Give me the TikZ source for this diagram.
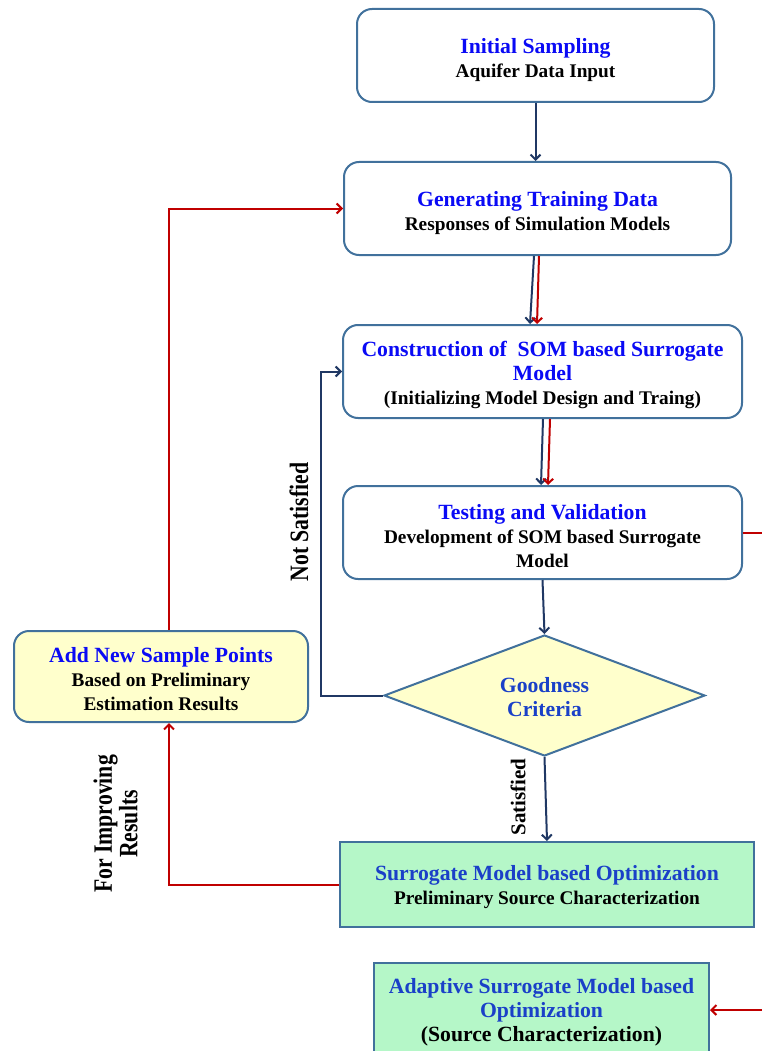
\documentclass[tikz,border=0pt]{standalone}
\usepackage{fontspec}
\setmainfont{Liberation Serif}
\usetikzlibrary{shapes.geometric,arrows.meta}
\definecolor{navy}{HTML}{203864}
\definecolor{darkred}{HTML}{C00000}
\definecolor{bord}{HTML}{41719C}
\definecolor{yel}{HTML}{FFFFCC}
\definecolor{grn}{HTML}{B5F7C8}
\definecolor{tblue}{HTML}{0A0AF5}
\definecolor{dblue}{HTML}{1A40C8}
\newcommand\SUBF{\fontsize{19.3}{24}\selectfont\bfseries}
\newcommand\TT{\fontsize{21.7}{24}\selectfont\bfseries\color{tblue}}
\newcommand\TD{\fontsize{21.7}{24}\selectfont\bfseries\color{dblue}}
\newcommand\BIGB{\fontsize{21.7}{24}\selectfont\bfseries}
\begin{document}
\begin{tikzpicture}[x=1pt,y=-1pt,
  box/.style={draw=bord,line width=2pt,rounded corners=15pt,fill=white,inner sep=0pt},
  sqbox/.style={draw=bord,line width=2pt,fill=grn,inner sep=0pt},
  txt/.style={align=center,inner sep=0pt,font=\SUBF},
  nav/.style={draw=navy,line width=2pt,-{Straight Barb[length=5pt,width=10pt]}},
  rd/.style={draw=darkred,line width=2pt,-{Straight Barb[length=5pt,width=10pt]}},
  rdline/.style={draw=darkred,line width=2pt},
  lab/.style={font=\bfseries,rotate=90,inner sep=0pt}]
\path[use as bounding box] (0,0) rectangle (762,1051);
\clip (0,0) rectangle (762,1051);

\node[box,minimum width=357pt,minimum height=93pt] (b1) at (535.5,55.5) {};
\node[txt] (t1) at ([yshift=-4.5pt]b1.center)
  {{\TT Initial Sampling}\\Aquifer Data Input};
\node[box,minimum width=387pt,minimum height=93pt] (b2) at (537.5,208.5) {};
\node[txt] (t2) at ([yshift=-4.5pt]b2.center)
  {{\TT Generating Training Data}\\Responses of Simulation Models};
\node[box,minimum width=399pt,minimum height=93pt] (b3) at (542.5,371.5) {};
\node[txt] (t3) at ([yshift=-3.5pt]b3.center)
  {{\TT Construction of\ \ SOM based Surrogate}\\{\TT Model}\\(Initializing Model Design and Traing)};
\node[box,minimum width=399pt,minimum height=93pt] (b4) at (542.5,532.5) {};
\node[txt] (t4) at ([yshift=-3.5pt]b4.center)
  {{\TT Testing and Validation}\\Development of SOM based Surrogate\\Model};
\node[diamond,draw=bord,line width=2pt,fill=yel,aspect=2.65,minimum width=321pt,minimum height=121pt,inner sep=0pt] (dia) at (544.5,695.5) {};
\node[txt,font=\TD] (td) at ([yshift=-2pt]dia.center)
  {{\TD Goodness}\\{\TD Criteria}};
\node[box,fill=yel,minimum width=294pt,minimum height=91pt] (b6) at (161,676.5) {};
\node[txt] (t6) at ([yshift=-3pt]b6.center)
  {{\TT Add New Sample Points}\\Based on Preliminary\\Estimation Results};
\node[sqbox,minimum width=414pt,minimum height=85pt] (b7) at (547,884.5) {};
\node[txt] (t7) at ([yshift=-3pt]b7.center)
  {{\TD Surrogate Model based Optimization}\\Preliminary Source Characterization};
\node[sqbox,minimum width=335pt,minimum height=94pt] (b8) at (541.5,1010) {};
\node[txt] (t8) at ([yshift=-2pt]b8.center)
  {{\TD Adaptive Surrogate Model based}\\{\TD Optimization}\\{\BIGB (Source Characterization)}};

\coordinate (nsx) at (321,0);
\coordinate (fix) at (169,0);
\coordinate (re) at (766,0);

\draw[nav] (b1.south) -- (b1.south |- b2.north);
\draw[nav] ([xshift=-3.5pt]b2.south) -- ([xshift=-12.5pt]b3.north);
\draw[rd] ([xshift=1.5pt]b2.south) -- ([xshift=-5.5pt]b3.north);
\draw[nav] ([xshift=0.5pt]b3.south) -- ([xshift=-1.5pt]b4.north);
\draw[rd] ([xshift=7.5pt]b3.south) -- ([xshift=5.5pt]b4.north);
\draw[nav] (b4.south) -- (dia.north);
\draw[nav] (dia.west) -- (dia.west -| nsx) |- (b3.west);
\draw[nav] (dia.south) -- (b7.north);
\draw[rd] (b7.west) -| (fix |- b6.south);
\draw[rd] (fix |- b6.north) |- (b2.west);
\draw[rdline] (b4.east) -- (b4.east -| re);
\draw[rd] (b8.east -| re) -- (b8.east);

\node[lab] (l1) at (299,522) {\scalebox{0.82}[1]{\fontsize{26.5}{24}\selectfont Not Satisfied}};
\node[lab] (l2) at (518,797) {\fontsize{21}{24}\selectfont Satisfied};
\node[lab] (l3) at (119,824) {\scalebox{0.82}[1]{\fontsize{26.5}{24}\selectfont\begin{tabular}{@{}c@{}}For Improving\\Results\end{tabular}}};
\end{tikzpicture}
\end{document}
